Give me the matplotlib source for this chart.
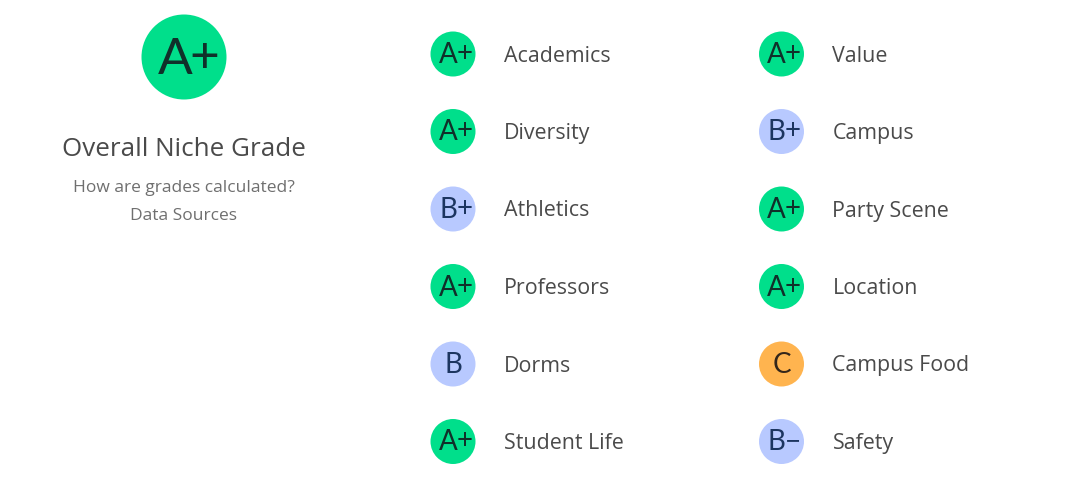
import matplotlib.pyplot as plt
from matplotlib.patches import Circle

left_names = ['Academics', 'Diversity', 'Athletics', 'Professors', 'Dorms', 'Student Life']
left_grades = ['A+', 'A+', 'B+', 'A+', 'B', 'A+']
right_names = ['Value', 'Campus', 'Party Scene', 'Location', 'Campus Food', 'Safety']
right_grades = ['A+', 'B+', 'A+', 'A+', 'C', 'B\u2212']

overall_title = 'Overall Niche Grade'
overall_grade = 'A+'
overall_links = ['How are grades calculated?', 'Data Sources']

fills = {'A': '#00df8b', 'B': '#b8c9ff', 'C': '#ffb44f'}
inks = {'A': '#10302a', 'B': '#1c3560', 'C': '#33261a'}

plt.rcParams['font.family'] = ['Open Sans', 'DejaVu Sans']

fig = plt.figure(figsize=(10.8, 5.01), dpi=100)
ax = fig.add_axes([0, 0, 1, 1])
ax.set_xlim(0, 1080)
ax.set_ylim(501, 0)
ax.axis('off')


def badge(x, y, r, grade, scale=1.0):
    # letter and sign are separate so the sign can sit tight against the letter
    ink = inks[grade[0]]
    ax.add_patch(Circle((x, y), r, color=fills[grade[0]], lw=0))
    shift = -5 * scale if len(grade) > 1 else 0
    ax.text(x + shift, y + 9 * scale, grade[0], ha='center', va='baseline',
            fontsize=20 * scale, family=['Lato', 'DejaVu Sans'], color=ink)
    if len(grade) > 1:
        ax.text(x + 11.2 * scale, y + 8 * scale, grade[1], ha='center', va='baseline',
                fontsize=20 * scale, family=['Lato', 'DejaVu Sans'], color=ink)


# overall block
badge(184, 57, 42.5, overall_grade, scale=1.85)
ax.text(184, 150, overall_title, ha='center', va='center', fontsize=18.7, color='#4a4a4a')
ax.text(184, 188, overall_links[0], ha='center', va='center', fontsize=12.5, color='#6f6f6f')
ax.text(184, 216, overall_links[1], ha='center', va='center', fontsize=12.5, color='#6f6f6f')

# two columns of grades
rows = [54, 131.5, 209, 286.5, 364, 441.5]
for x, names, grades in [(453, left_names, left_grades), (781.5, right_names, right_grades)]:
    for y, name, grade in zip(rows, names, grades):
        badge(x, y, 22.5, grade)
        ax.text(x + 51, y + 2, name, ha='left', va='center', fontsize=15.4, color='#4a4a4a')

fig.savefig('out.png', dpi=100)
